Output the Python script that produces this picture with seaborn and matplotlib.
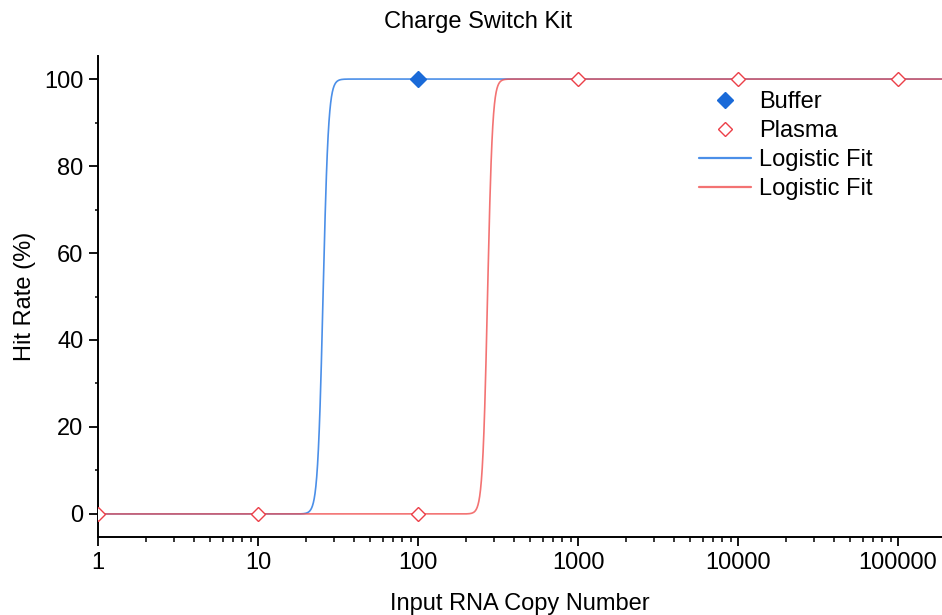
import numpy as np
import pandas as pd
import matplotlib
matplotlib.use('Agg')
import matplotlib.pyplot as plt
import seaborn as sns
from matplotlib.ticker import FixedLocator, MultipleLocator, LogLocator, NullFormatter

# data
buffer_x = [100]
buffer_y = [100]
plasma_x = [1, 10, 100, 1000, 10000, 100000]
plasma_y = [0, 0, 0, 100, 100, 100]

# logistic fit parameters (A1, A2, x0, p)
buffer_fit = (0, 100, 25.5, 26)
plasma_fit = (0, 100, 272, 28)

blue = '#1a6ad8'
red = '#ec3f48'

sns.set_theme(style='ticks')
plt.rcParams['font.family'] = ['Liberation Sans', 'DejaVu Sans']
plt.rcParams['font.size'] = 17
plt.rcParams['text.color'] = 'black'
plt.rcParams['axes.labelcolor'] = 'black'

fig = plt.figure(figsize=(9.42, 6.15), dpi=100)
ax = fig.add_axes([98/942, 1 - 537/615, 1 - 98/942, 481/615])

xlim = (1, 10 ** ((942 - 98) / 160))
xs = np.logspace(0, np.log10(xlim[1]), 2000)


def logistic(x, a1, a2, x0, p):
    return a2 + (a1 - a2) / (1 + (x / x0) ** p)


fit_b = pd.DataFrame({'x': xs, 'y': logistic(xs, *buffer_fit)})
fit_p = pd.DataFrame({'x': xs, 'y': logistic(xs, *plasma_fit)})

sns.lineplot(data=fit_b, x='x', y='y', ax=ax, color='#2b7be4', lw=1.2, alpha=0.85,
             label='Logistic Fit', sort=False)
sns.lineplot(data=fit_p, x='x', y='y', ax=ax, color='#f05050', lw=1.2, alpha=0.8,
             label='Logistic Fit ', sort=False)

ax.plot(plasma_x, plasma_y, ls='none', marker='D', ms=7.4, mfc='white', mec=red,
        mew=1.0, label='Plasma', zorder=4)
ax.plot(buffer_x, buffer_y, ls='none', marker='D', ms=8, mfc=blue, mec=blue,
        label='Buffer', zorder=5)

ax.set_xscale('log')
ax.set_xlim(*xlim)
ax.set_ylim(-5.3, 105.3)
ax.xaxis.set_major_locator(FixedLocator([1, 10, 100, 1000, 10000, 100000]))
ax.set_xticklabels(['1', '10', '100', '1000', '10000', '100000'])
ax.xaxis.set_minor_locator(LogLocator(base=10, subs=np.arange(2, 10), numticks=20))
ax.xaxis.set_minor_formatter(NullFormatter())
ax.yaxis.set_major_locator(MultipleLocator(20))
ax.yaxis.set_minor_locator(MultipleLocator(10))

sns.despine(ax=ax)
for s in ['left', 'bottom']:
    ax.spines[s].set_linewidth(1.4)
    ax.spines[s].set_color('black')
ax.tick_params(axis='both', which='major', length=6.5, width=1.3, color='black',
               labelsize=17, labelcolor='black', pad=4)
ax.tick_params(axis='x', which='minor', length=3.6, width=1.1, color='black')
ax.tick_params(axis='y', which='minor', length=2.4, width=1.1, color='black')

ax.set_xlabel('Input RNA Copy Number', fontsize=17)
ax.set_ylabel('Hit Rate (%)', fontsize=17)
ax.xaxis.set_label_coords(0.5, -0.116)
ax.yaxis.set_label_coords(-0.073, 0.5)

fig.text(478 / 942, 1 - 22 / 615, 'Charge Switch Kit', ha='center', va='center', fontsize=17)

h, l = ax.get_legend_handles_labels()
order = ['Buffer', 'Plasma', 'Logistic Fit', 'Logistic Fit ']
hd = dict(zip(l, h))
leg = ax.legend([hd[k] for k in order], ['Buffer', 'Plasma', 'Logistic Fit', 'Logistic Fit'],
                loc='upper left', bbox_to_anchor=(699 / 942, 1 - 91 / 615),
                bbox_transform=fig.transFigure, frameon=False, fontsize=17,
                handlelength=2.2, handletextpad=0.35, labelspacing=0.3, borderpad=0,
                borderaxespad=0)
for line in leg.get_lines()[2:]:
    line.set_linewidth(1.6)

fig.savefig('out.png', dpi=100)
